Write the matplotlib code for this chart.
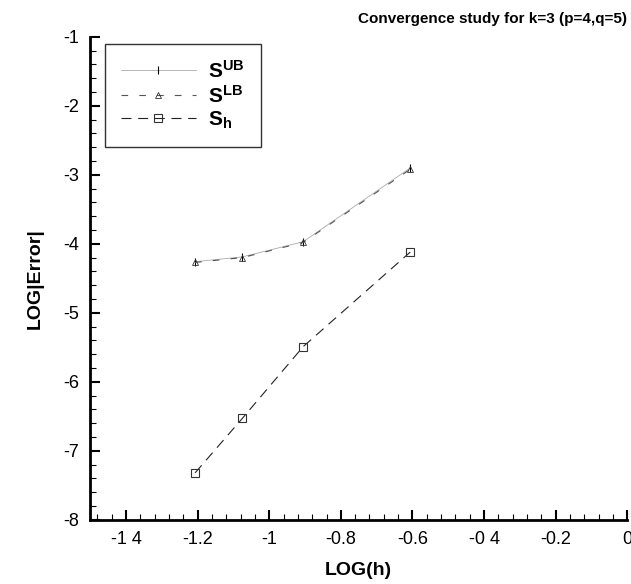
import matplotlib
matplotlib.use("Agg")
import matplotlib.pyplot as plt
from matplotlib.ticker import MultipleLocator

# Data
log_h = [-1.207, -1.075, -0.905, -0.606]
s_ub = [-4.26, -4.19, -3.97, -2.90]
s_lb = [-4.27, -4.20, -3.98, -2.92]
s_h = [-7.32, -6.53, -5.49, -4.12]

title = "Convergence study for k=3 (p=4,q=5)"
xlabel = "LOG(h)"
ylabel = "LOG|Error|"
x_ticks = [-1.4, -1.2, -1.0, -0.8, -0.6, -0.4, -0.2, 0.0]
x_ticklabels = ["-1 4", "-1.2", "-1", "-0.8", "-0.6", "-0 4", "-0.2", "0"]
y_ticks = [-8, -7, -6, -5, -4, -3, -2, -1]
y_ticklabels = ["-8", "-7", "-6", "-5", "-4", "-3", "-2", "-1"]

plt.rcParams['font.family'] = ['Liberation Sans', 'DejaVu Sans']
plt.rcParams['mathtext.fontset'] = 'custom'
plt.rcParams['mathtext.rm'] = 'Liberation Sans'
plt.rcParams['mathtext.bf'] = 'Liberation Sans:bold'
plt.rcParams['mathtext.it'] = 'Liberation Sans:italic'

fig = plt.figure(figsize=(6.31, 5.84), dpi=100)
ax = fig.add_axes([0.143, 0.110, 0.851, 0.827])

ax.plot(log_h, s_ub, color='#aaaaaa', lw=0.6, ls='-',
        marker='|', ms=6, mec='black', mew=0.8, label=r'$\mathbf{S^{UB}}$')
ax.plot(log_h, s_lb, color='#555555', lw=0.8, ls=(0, (6, 10)),
        marker='^', ms=4, mfc='none', mec='#333333', mew=0.6, label=r'$\mathbf{S^{LB}}$')
ax.plot(log_h, s_h, color='#222222', lw=0.8, ls=(0, (9, 6)),
        marker='s', ms=6, mfc='none', mec='#333333', mew=0.8, label=r'$\mathbf{S_h}$')

ax.set_xlim(-1.5, 0)
ax.set_ylim(-8, -1)
ax.set_xticks(x_ticks)
ax.set_xticklabels(x_ticklabels)
ax.set_yticks(y_ticks)
ax.set_yticklabels(y_ticklabels)
ax.xaxis.set_minor_locator(MultipleLocator(0.04))
ax.yaxis.set_minor_locator(MultipleLocator(0.2))
ax.tick_params(which='major', direction='in', length=7, width=1.5, labelsize=13)
ax.tick_params(which='minor', direction='in', length=4, width=0.8)
ax.tick_params(axis='x', pad=8)
ax.tick_params(axis='y', pad=8)

for s in ['top', 'right']:
    ax.spines[s].set_visible(False)
for s in ['left', 'bottom']:
    ax.spines[s].set_linewidth(2)

ax.set_title(title, fontsize=11, fontweight='bold', loc='right', pad=10)
ax.set_xlabel(xlabel, fontsize=14, fontweight='bold', labelpad=10)
ax.set_ylabel(ylabel, fontsize=14, fontweight='bold', labelpad=14)

leg = ax.legend(loc='upper left', bbox_to_anchor=(0.028, 0.985), frameon=True,
                fancybox=False, edgecolor='black', fontsize=15, handlelength=3.6,
                labelspacing=0.15, borderpad=0.75, handletextpad=0.6,
                borderaxespad=0)
leg.get_frame().set_linewidth(1.0)

fig.savefig("out.png", dpi=100)
